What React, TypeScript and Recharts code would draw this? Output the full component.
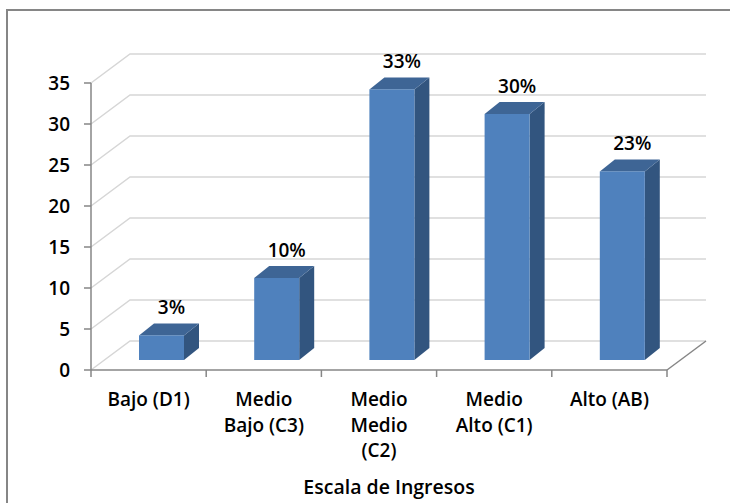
import React from 'react';
import { BarChart, Bar, XAxis, YAxis, CartesianGrid, LabelList, Label } from 'recharts';

const categories = ['Bajo (D1)', 'Medio Bajo (C3)', 'Medio Medio (C2)', 'Medio Alto (C1)', 'Alto (AB)'];
const categoryLines = [['Bajo (D1)'], ['Medio', 'Bajo (C3)'], ['Medio', 'Medio', '(C2)'], ['Medio', 'Alto (C1)'], ['Alto (AB)']];
const values = [3, 10, 33, 30, 23];
const valueLabels = ['3%', '10%', '33%', '30%', '23%'];
const yTicks = [0, 5, 10, 15, 20, 25, 30, 35];
const axisTitle = 'Escala de Ingresos';

const data = categories.map((c, i) => ({ name: c, value: values[i], label: valueLabels[i] }));

const FONT = '"Open Sans", "Noto Sans", sans-serif';
const AXIS = '#868686';
const GRID = '#D6D6D6';
const FRONT = '#4F81BD';
const TOP = '#3E6595';
const SIDE = '#32557F';
const WALL_DX = 39;
const WALL_DY = 29;
const BAR_DX = 13;
const BAR_DY = 10;
const DEPTH_X = 15;
const DEPTH_Y = 12;

const Bar3D = (props: any) => {
  const { x, y, width, height } = props;
  if (width == null || height == null) return null;
  const fx = x + BAR_DX;
  const fy = y - BAR_DY;
  const top = `${fx},${fy} ${fx + DEPTH_X},${fy - DEPTH_Y} ${fx + width + DEPTH_X},${fy - DEPTH_Y} ${fx + width},${fy}`;
  const side = `${fx + width},${fy} ${fx + width + DEPTH_X},${fy - DEPTH_Y} ${fx + width + DEPTH_X},${fy + height - DEPTH_Y} ${fx + width},${fy + height}`;
  return (
    <g>
      <polygon points={side} fill={SIDE} />
      <polygon points={top} fill={TOP} />
      <rect x={fx} y={fy} width={width} height={height} fill={FRONT} />
    </g>
  );
};

const BarLabel = (props: any) => {
  const { x, y, width, value } = props;
  return (
    <text x={x + width / 2 + BAR_DX + 10} y={y - BAR_DY - 21} textAnchor="middle" fontFamily={FONT} fontSize={19} fontWeight={600} fill="#000">
      {value}
    </text>
  );
};

const gridLine = (props: any) => {
  const { x1, y1, x2, index } = props;
  const pts = `${x1},${y1} ${x1 + WALL_DX},${y1 - WALL_DY} ${x2 + WALL_DX},${y1 - WALL_DY}`;
  return <polyline key={`g-${index}-${y1}`} points={pts} fill="none" stroke={GRID} strokeWidth={1.5} />;
};

const XTick = (props: any) => {
  const { x, y, payload, index } = props;
  const half = payload && payload.offset ? payload.offset : 57.6;
  const lines = categoryLines[index] || [String(payload.value)];
  const last = index === categories.length - 1;
  return (
    <g>
      <line x1={x - half} x2={x - half} y1={y} y2={y + 7} stroke={AXIS} strokeWidth={1.5} />
      {last && <line x1={x + half} x2={x + half} y1={y} y2={y + 7} stroke={AXIS} strokeWidth={1.5} />}
      {last && <line x1={x + half} x2={x + half + WALL_DX} y1={y} y2={y - WALL_DY} stroke={AXIS} strokeWidth={1.5} />}
      <text textAnchor="middle" fontFamily={FONT} fontSize={19} fontWeight={600} fill="#000">
        {lines.map((l, i) => (
          <tspan key={i} x={x} y={y + 36 + i * 25.5}>{l}</tspan>
        ))}
      </text>
    </g>
  );
};

const TitleLabel = (props: any) => {
  const { viewBox } = props;
  const cx = viewBox.x + viewBox.width / 2 + 10;
  return (
    <text x={cx} y={494} textAnchor="middle" fontFamily={FONT} fontSize={19.5} fontWeight={600} fill="#000">
      {axisTitle}
    </text>
  );
};

export default function App() {
  return (
    <div style={{ position: 'absolute', left: 0, top: 0, width: 730, height: 503, overflow: 'hidden', background: '#fff' }}>
      <div style={{ position: 'absolute', left: 6, top: 9, width: 800, height: 600, borderLeft: `2px solid ${AXIS}`, borderTop: `2px solid ${AXIS}` }} />
      <div style={{ position: 'absolute', left: 0, top: 0 }}>
        <BarChart width={730} height={503} data={data} margin={{ top: 83, right: 63, left: 31, bottom: 0 }}>
          <CartesianGrid vertical={false} horizontal={gridLine} />
          <XAxis
            dataKey="name"
            interval={0}
            height={133}
            tickSize={0}
            tickMargin={0}
            tickLine={false}
            axisLine={{ stroke: AXIS, strokeWidth: 1.5 }}
            tick={<XTick />}
          >
            <Label content={<TitleLabel />} />
          </XAxis>
          <YAxis
            domain={[0, 35]}
            ticks={yTicks}
            interval={0}
            width={60}
            tickSize={7}
            tickMargin={14}
            axisLine={{ stroke: AXIS, strokeWidth: 1.5 }}
            tickLine={{ stroke: AXIS, strokeWidth: 1.5 }}
            tick={{ fill: '#000', fontSize: 19, fontWeight: 600, fontFamily: FONT }}
          />
          <Bar dataKey="value" barSize={45} fill={FRONT} shape={<Bar3D />} isAnimationActive={false}>
            <LabelList dataKey="label" content={<BarLabel />} />
          </Bar>
        </BarChart>
      </div>
    </div>
  );
}
